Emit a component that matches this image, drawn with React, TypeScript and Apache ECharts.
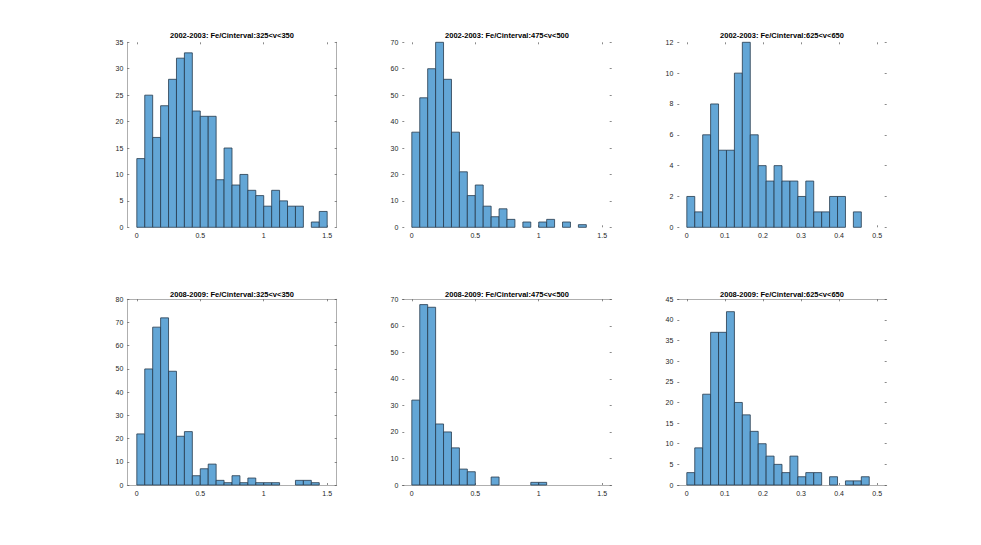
import React, { useEffect, useRef } from "react";
import * as echarts from "echarts";

const titles = [
  "2002-2003: Fe/Cinterval:325<v<350",
  "2002-2003: Fe/Cinterval:475<v<500",
  "2002-2003: Fe/Cinterval:625<v<650",
  "2008-2009: Fe/Cinterval:325<v<350",
  "2008-2009: Fe/Cinterval:475<v<500",
  "2008-2009: Fe/Cinterval:625<v<650",
];

const counts2002_325 = [13, 25, 17, 23, 28, 32, 33, 22, 21, 21, 9, 15, 8, 10, 7, 6, 4, 7, 5, 4, 4, 0, 1, 3];
const counts2002_475 = [36, 49, 60, 70, 56, 36, 21, 12, 16, 8, 4, 7, 3, 0, 2, 0, 2, 3, 0, 2, 0, 1];
const counts2002_625 = [2, 1, 6, 8, 5, 5, 10, 12, 6, 4, 3, 4, 3, 3, 2, 3, 1, 1, 2, 2, 0, 1];
const counts2008_325 = [22, 50, 68, 72, 49, 21, 23, 4, 7, 9, 2, 1, 4, 1, 3, 1, 1, 1, 0, 0, 2, 2, 1];
const counts2008_475 = [32, 68, 67, 23, 20, 14, 6, 5, 0, 0, 3, 0, 0, 0, 0, 1, 1];
const counts2008_625 = [3, 9, 22, 37, 37, 42, 20, 17, 13, 10, 7, 5, 3, 7, 2, 3, 3, 0, 2, 0, 1, 1, 2];

const allCounts = [counts2002_325, counts2002_475, counts2002_625, counts2008_325, counts2008_475, counts2008_625];
const binWidths = [0.0625, 0.0625, 0.0208333, 0.0625, 0.0625, 0.0208333];

const xTicksWide = [0, 0.5, 1, 1.5];
const xTicksNarrow = [0, 0.1, 0.2, 0.3, 0.4, 0.5];
const xLimWide = [-0.075, 1.575];
const xLimNarrow = [-0.025, 0.525];

const yMax = [35, 70, 12, 80, 70, 45];
const yStep = [5, 10, 2, 10, 10, 5];

// which box lines are visible [left, right, top, bottom]
const boxLines = [
  [true, true, false, false],
  [false, false, false, false],
  [false, false, false, false],
  [true, true, true, true],
  [false, false, true, true],
  [false, false, true, true],
];

const colLeft = [127.3, 402.3, 677.3];
const colWidth = 209.4;
const rowTop = [42.3, 299.3];
const rowHeight = [185, 185.7];
const titleTop = [31.5, 290.5];

export default function App() {
  const ref = useRef<HTMLDivElement>(null);
  useEffect(() => {
    if (!ref.current) return;
    const chart = echarts.init(ref.current, undefined, { renderer: "svg" });
    const grids: any[] = [];
    const xAxes: any[] = [];
    const yAxes: any[] = [];
    const series: any[] = [];
    const title: any[] = [];
    const font = "Liberation Sans, Arial, Helvetica, sans-serif";
    const lineColor = "#9a9a9a";
    const tickColor = "#3a3a3a";
    for (let i = 0; i < 6; i++) {
      const col = i % 3;
      const row = Math.floor(i / 3);
      const narrow = col === 2;
      const xlim = narrow ? xLimNarrow : xLimWide;
      const xt = narrow ? xTicksNarrow : xTicksWide;
      const [bl, br, bt, bb] = boxLines[i];
      grids.push({
        left: colLeft[col],
        top: rowTop[row],
        width: colWidth,
        height: rowHeight[row],
        containLabel: false,
      });
      title.push({
        text: titles[i],
        left: colLeft[col] + colWidth / 2,
        top: titleTop[row],
        textAlign: "center",
        padding: 0,
        textStyle: { fontSize: 7.5, fontWeight: "bold", color: "#000", fontFamily: font },
      });
      const xBase = {
        type: "value",
        gridIndex: i,
        min: xlim[0],
        max: xlim[1],
        splitLine: { show: false },
      };
      xAxes.push({
        ...xBase,
        position: "bottom",
        axisLine: { show: bb, onZero: false, lineStyle: { color: lineColor, width: 0.8 } },
        axisTick: { show: true, inside: true, length: 2, customValues: xt, lineStyle: { color: tickColor, width: 0.6 } },
        axisLabel: { customValues: xt, fontSize: 7, color: "#262626", margin: 5, fontFamily: font },
      });
      xAxes.push({
        ...xBase,
        position: "top",
        axisLine: { show: bt, onZero: false, lineStyle: { color: lineColor, width: 0.8 } },
        axisTick: { show: true, inside: true, length: 2, customValues: xt, lineStyle: { color: tickColor, width: 0.6 } },
        axisLabel: { show: false },
      });
      const yBase = {
        type: "value",
        gridIndex: i,
        min: 0,
        max: yMax[i],
        interval: yStep[i],
        splitLine: { show: false },
      };
      yAxes.push({
        ...yBase,
        position: "left",
        axisLine: { show: bl, onZero: false, lineStyle: { color: lineColor, width: 0.8 } },
        axisTick: { show: true, inside: true, length: 2, lineStyle: { color: tickColor, width: 0.6 } },
        axisLabel: { fontSize: 7, color: "#262626", margin: 4, fontFamily: font },
      });
      yAxes.push({
        ...yBase,
        position: "right",
        axisLine: { show: br, onZero: false, lineStyle: { color: lineColor, width: 0.8 } },
        axisTick: { show: true, inside: true, length: 2, lineStyle: { color: tickColor, width: 0.6 } },
        axisLabel: { show: false },
      });
      const w = binWidths[i];
      const data = allCounts[i]
        .map((c, k) => [k * w, (k + 1) * w, c])
        .filter((d) => d[2] > 0);
      series.push({
        type: "custom",
        xAxisIndex: i * 2,
        yAxisIndex: i * 2,
        encode: { x: [0, 1], y: 2 },
        data,
        renderItem: (params: any, api: any) => {
          const x0 = api.value(0);
          const x1 = api.value(1);
          const c = api.value(2);
          const p0 = api.coord([x0, c]);
          const p1 = api.coord([x1, 0]);
          return {
            type: "rect",
            shape: { x: p0[0], y: p0[1], width: p1[0] - p0[0], height: p1[1] - p0[1] },
            style: { fill: "#63a6d6", stroke: "#263a4d", lineWidth: 0.8 },
          };
        },
      });
    }
    chart.setOption({
      animation: false,
      backgroundColor: "#ffffff",
      title,
      grid: grids,
      xAxis: xAxes,
      yAxis: yAxes,
      series,
    });
    return () => chart.dispose();
  }, []);
  return (
    <div
      ref={ref}
      style={{ position: "fixed", left: 0, top: 0, width: 981, height: 545, background: "#fff" }}
    />
  );
}
